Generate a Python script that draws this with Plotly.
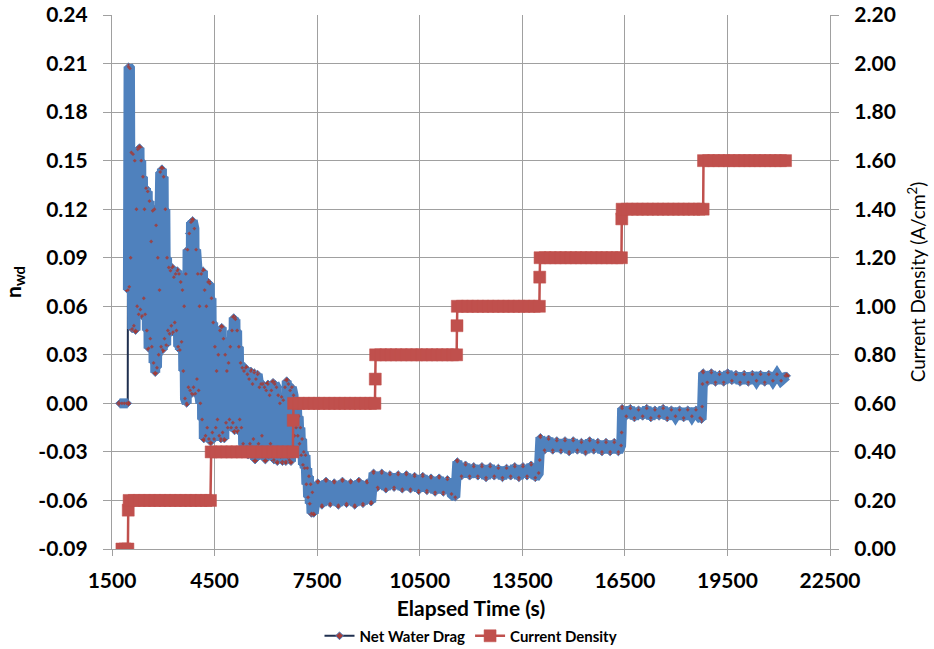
import plotly.graph_objects as go

# Net water drag (n_wd) vs elapsed time (s): start-up and transient period
nwd_early = [
    (1720, 0.000), (1790, 0.000), (1860, 0.000), (1930, 0.000), (1960, 0.000), (1965, 0.070),
    (1985, 0.208), (2005, 0.072), (2025, 0.207), (2045, 0.090),
    (2065, 0.155), (2090, 0.046), (2115, 0.154), (2140, 0.048), (2165, 0.150), (2190, 0.045), (2215, 0.120), (2235, 0.060),
    (2255, 0.157), (2280, 0.055), (2305, 0.158), (2330, 0.058), (2355, 0.150), (2380, 0.054), (2405, 0.140), (2430, 0.065), (2450, 0.120),
    (2470, 0.055), (2495, 0.133), (2520, 0.045), (2545, 0.131), (2570, 0.034), (2595, 0.125), (2620, 0.040), (2645, 0.100), (2665, 0.035),
    (2690, 0.119), (2715, 0.025), (2740, 0.120), (2765, 0.019), (2790, 0.110), (2815, 0.022), (2840, 0.090), (2865, 0.030), (2890, 0.070),
    (2910, 0.143), (2935, 0.035), (2960, 0.145), (2985, 0.033), (3010, 0.140), (3035, 0.040), (3060, 0.120), (3085, 0.036), (3110, 0.090),
    (3135, 0.045), (3160, 0.084), (3185, 0.043), (3210, 0.082), (3235, 0.048), (3260, 0.084), (3285, 0.044), (3310, 0.078), (3335, 0.050), (3360, 0.080), (3385, 0.045),
    (3410, 0.082), (3435, 0.035), (3460, 0.080), (3485, 0.033), (3510, 0.075), (3535, 0.038), (3560, 0.070), (3585, 0.020),
    (3610, 0.060), (3635, 0.003), (3660, 0.080), (3685, 0.000), (3710, 0.095), (3735, 0.010), (3760, 0.105), (3785, 0.008), (3810, 0.112),
    (3835, 0.006), (3860, 0.113), (3885, 0.010), (3910, 0.108), (3935, 0.006), (3960, 0.095), (3985, 0.015), (4010, 0.080), (4035, 0.008), (4060, 0.060),
    (4085, 0.000), (4110, 0.080), (4135, -0.010), (4160, 0.082), (4185, -0.022), (4210, 0.070), (4235, -0.020), (4260, 0.060), (4285, -0.015),
    (4310, 0.075), (4335, -0.022), (4360, 0.074), (4385, -0.024), (4410, 0.065), (4435, -0.018), (4460, 0.050), (4485, -0.022), (4510, 0.035), (4535, -0.015), (4560, 0.020),
    (4585, -0.010), (4610, 0.030), (4635, -0.020), (4660, 0.045), (4685, -0.022), (4710, 0.047), (4735, -0.018), (4760, 0.040), (4785, -0.022), (4810, 0.030), (4835, -0.012), (4860, 0.020), (4885, -0.015),
    (4910, 0.025), (4935, -0.010), (4960, 0.035), (4985, -0.015), (5010, 0.045), (5035, -0.012), (5060, 0.053), (5085, -0.017), (5110, 0.052), (5135, -0.015), (5160, 0.045), (5185, -0.017), (5210, 0.035), (5235, -0.010), (5260, 0.025), (5285, -0.015),
    (5310, 0.022), (5335, -0.025), (5360, 0.020), (5385, -0.030), (5410, 0.022), (5435, -0.028), (5460, 0.018), (5485, -0.032), (5510, 0.015), (5535, -0.025), (5560, 0.020), (5585, -0.030), (5610, 0.012),
    (5635, -0.022), (5660, 0.019), (5685, -0.035), (5710, 0.015), (5735, -0.030), (5760, 0.018), (5785, -0.025), (5810, 0.010), (5835, -0.032), (5860, 0.012), (5885, -0.020),
    (5910, 0.012), (5935, -0.030), (5960, 0.010), (5985, -0.035), (6010, 0.008), (6035, -0.028), (6060, 0.012), (6085, -0.033), (6110, 0.005),
    (6135, -0.025), (6160, 0.008), (6185, -0.030), (6210, 0.013), (6235, -0.035), (6260, 0.012), (6285, -0.030), (6310, 0.010), (6335, -0.036), (6360, 0.005), (6385, -0.028),
    (6410, 0.000), (6435, -0.033), (6460, 0.004), (6485, -0.036), (6510, 0.002), (6535, -0.030),
    (6560, 0.010), (6585, -0.036), (6610, 0.014), (6635, -0.033), (6660, 0.012), (6685, -0.035), (6710, 0.008), (6735, -0.036), (6760, 0.010), (6785, -0.030), (6810, 0.005), (6835, -0.020),
    (6860, 0.000), (6885, -0.015), (6910, -0.002), (6935, -0.020), (6960, -0.008), (6985, -0.025), (7010, -0.015), (7035, -0.032), (7060, -0.022), (7085, -0.038), (7110, -0.030), (7135, -0.040),
    (7160, -0.032), (7185, -0.050), (7210, -0.040), (7235, -0.058), (7260, -0.045), (7285, -0.062), (7310, -0.050), (7335, -0.068), (7360, -0.055),
]

# Net water drag during the constant-current holds
nwd_steps = [
    (7400, -0.068), (7520, -0.049), (7640, -0.063), (7760, -0.048), (7880, -0.062), (8000, -0.049), (8120, -0.063), (8240, -0.048),
    (8360, -0.062), (8480, -0.049), (8600, -0.063), (8720, -0.048), (8840, -0.062), (8960, -0.049), (9080, -0.061),
    (9150, -0.043), (9270, -0.052), (9390, -0.043), (9510, -0.053), (9630, -0.044), (9750, -0.052), (9870, -0.044), (9990, -0.053),
    (10110, -0.044), (10230, -0.053), (10350, -0.045), (10470, -0.054), (10590, -0.045), (10710, -0.054), (10830, -0.046), (10950, -0.055),
    (11070, -0.046), (11190, -0.055), (11310, -0.047), (11430, -0.056), (11540, -0.058),
    (11600, -0.036), (11720, -0.045), (11840, -0.038), (11960, -0.045), (12080, -0.039), (12200, -0.045), (12320, -0.039), (12440, -0.046),
    (12560, -0.039), (12680, -0.045), (12800, -0.040), (12920, -0.046), (13040, -0.040), (13160, -0.045), (13280, -0.039), (13400, -0.046),
    (13520, -0.039), (13640, -0.045), (13760, -0.038), (13880, -0.046), (13980, -0.043), (14010, -0.035),
    (14030, -0.021), (14150, -0.029), (14270, -0.022), (14390, -0.029), (14510, -0.023), (14630, -0.029), (14750, -0.023), (14870, -0.030),
    (14990, -0.023), (15110, -0.029), (15230, -0.024), (15350, -0.030), (15470, -0.023), (15590, -0.029), (15710, -0.024), (15830, -0.030),
    (15950, -0.024), (16070, -0.030), (16190, -0.024), (16310, -0.030), (16390, -0.026), (16405, -0.018),
    (16420, -0.003), (16540, -0.008), (16660, -0.003), (16780, -0.009), (16900, -0.004), (17020, -0.008), (17140, -0.003), (17260, -0.009),
    (17380, -0.004), (17500, -0.008), (17620, -0.003), (17740, -0.009), (17860, -0.004), (17980, -0.008), (18100, -0.004), (18220, -0.009),
    (18340, -0.004), (18460, -0.008), (18580, -0.004), (18700, -0.009), (18745, -0.010), (18760, -0.002), (18770, 0.012),
    (18790, 0.019), (18910, 0.013), (19030, 0.019), (19150, 0.013), (19270, 0.018), (19390, 0.013), (19510, 0.019), (19630, 0.014),
    (19750, 0.018), (19870, 0.013), (19990, 0.018), (20110, 0.013), (20230, 0.018), (20350, 0.014), (20470, 0.018), (20590, 0.013),
    (20710, 0.018), (20830, 0.014), (20950, 0.018), (21070, 0.014), (21190, 0.017), (21230, 0.017),
]

# Current density (A/cm^2) vs elapsed time (s)
current_density = [
    (1790, 0.0), (1880, 0.0), (1965, 0.0), (1975, 0.16),
    (2000, 0.2), (2150, 0.2), (2300, 0.2), (2450, 0.2), (2600, 0.2), (2750, 0.2), (2900, 0.2), (3050, 0.2), (3200, 0.2),
    (3350, 0.2), (3500, 0.2), (3650, 0.2), (3800, 0.2), (3950, 0.2), (4100, 0.2), (4250, 0.2), (4380, 0.2),
    (4400, 0.4), (4550, 0.4), (4700, 0.4), (4850, 0.4), (5000, 0.4), (5150, 0.4), (5300, 0.4), (5450, 0.4), (5600, 0.4),
    (5750, 0.4), (5900, 0.4), (6050, 0.4), (6200, 0.4), (6350, 0.4), (6500, 0.4), (6650, 0.4), (6790, 0.4),
    (6800, 0.53),
    (6810, 0.6), (6960, 0.6), (7110, 0.6), (7260, 0.6), (7410, 0.6), (7560, 0.6), (7710, 0.6), (7860, 0.6), (8010, 0.6),
    (8160, 0.6), (8310, 0.6), (8460, 0.6), (8610, 0.6), (8760, 0.6), (8910, 0.6), (9060, 0.6), (9190, 0.6),
    (9200, 0.70),
    (9210, 0.8), (9360, 0.8), (9510, 0.8), (9660, 0.8), (9810, 0.8), (9960, 0.8), (10110, 0.8), (10260, 0.8), (10410, 0.8),
    (10560, 0.8), (10710, 0.8), (10860, 0.8), (11010, 0.8), (11160, 0.8), (11310, 0.8), (11460, 0.8), (11580, 0.8),
    (11590, 0.92),
    (11600, 1.0), (11750, 1.0), (11900, 1.0), (12050, 1.0), (12200, 1.0), (12350, 1.0), (12500, 1.0), (12650, 1.0), (12800, 1.0),
    (12950, 1.0), (13100, 1.0), (13250, 1.0), (13400, 1.0), (13550, 1.0), (13700, 1.0), (13850, 1.0), (14000, 1.0),
    (14010, 1.12),
    (14020, 1.2), (14170, 1.2), (14320, 1.2), (14470, 1.2), (14620, 1.2), (14770, 1.2), (14920, 1.2), (15070, 1.2), (15220, 1.2),
    (15370, 1.2), (15520, 1.2), (15670, 1.2), (15820, 1.2), (15970, 1.2), (16120, 1.2), (16270, 1.2), (16400, 1.2),
    (16410, 1.36),
    (16420, 1.4), (16570, 1.4), (16720, 1.4), (16870, 1.4), (17020, 1.4), (17170, 1.4), (17320, 1.4), (17470, 1.4), (17620, 1.4),
    (17770, 1.4), (17920, 1.4), (18070, 1.4), (18220, 1.4), (18370, 1.4), (18520, 1.4), (18670, 1.4), (18790, 1.4),
    (18800, 1.6), (18950, 1.6), (19100, 1.6), (19250, 1.6), (19400, 1.6), (19550, 1.6), (19700, 1.6), (19850, 1.6), (20000, 1.6),
    (20150, 1.6), (20300, 1.6), (20450, 1.6), (20600, 1.6), (20750, 1.6), (20900, 1.6), (21050, 1.6), (21200, 1.6),
]

x_ticks = [1500, 4500, 7500, 10500, 13500, 16500, 19500, 22500]
y_ticks = [-0.09, -0.06, -0.03, 0.00, 0.03, 0.06, 0.09, 0.12, 0.15, 0.18, 0.21, 0.24]
y_tick_text = ["-0.09", "-0.06", "-0.03", "0.00", "0.03", "0.06", "0.09", "0.12", "0.15", "0.18", "0.21", "0.24"]
y2_ticks = [0.0, 0.2, 0.4, 0.6, 0.8, 1.0, 1.2, 1.4, 1.6, 1.8, 2.0, 2.2]

nwd = nwd_early + nwd_steps
t_nwd = [p[0] for p in nwd]
v_nwd = [p[1] for p in nwd]
t_cd = [p[0] for p in current_density]
v_cd = [p[1] for p in current_density]

BLUE = "#4F81BD"
NAVY = "#1F2F4F"
RED = "#C0504D"
DOT = "#A33B38"
GRID = "#A0A0A0"
FONT = "Lato"

# band drawn through the same points (gap at the initial jump, which shows as a thin line)
band_x = t_nwd[:5] + [None] + t_nwd[5:]
band_y = v_nwd[:5] + [None] + v_nwd[5:]

fig = go.Figure()
fig.add_trace(go.Scatter(
    x=t_nwd, y=v_nwd, mode="lines+markers", name="Net Water Drag",
    line=dict(color=NAVY, width=2),
    marker=dict(symbol="diamond", size=6, color=DOT, line=dict(color=BLUE, width=1)),
    hoverinfo="skip",
))
fig.add_trace(go.Scatter(
    x=band_x, y=band_y, mode="lines", showlegend=False, connectgaps=False,
    line=dict(color=BLUE, width=10), hoverinfo="skip",
))
fig.add_trace(go.Scatter(
    x=t_nwd, y=v_nwd, mode="markers", showlegend=False,
    marker=dict(symbol="diamond", size=3, color=DOT), opacity=0.85, hoverinfo="skip",
))
fig.add_trace(go.Scatter(
    x=t_cd, y=v_cd, yaxis="y2", mode="lines+markers", name="Current Density",
    line=dict(color=RED, width=2.5),
    marker=dict(symbol="square", size=12, color=RED, line=dict(color=RED, width=0.5)),
    hoverinfo="skip",
))

tickfont = dict(family=FONT, size=21, color="black", weight="bold")
fig.update_layout(
    width=934, height=649,
    margin=dict(l=112, r=104, t=15, b=100, autoexpand=False),
    paper_bgcolor="white", plot_bgcolor="white",
    showlegend=True,
    legend=dict(orientation="h", x=0.5, xanchor="center", y=-0.163, yanchor="middle",
                font=dict(family=FONT, size=15, color="black", weight="bold"),
                itemwidth=30, tracegroupgap=0),
    xaxis=dict(
        range=[1500, 22500], tickvals=x_ticks, tickformat="d", automargin=False,
        showgrid=True, gridcolor=GRID, gridwidth=1.2, zeroline=False,
        showline=True, linecolor=GRID, linewidth=1.2,
        ticks="outside", ticklen=6, tickcolor=GRID, tickfont=tickfont,
        ticklabelstandoff=7,
        title=dict(text="Elapsed Time (s)", standoff=10,
                   font=dict(family=FONT, size=21, color="black", weight="bold")),
    ),
    yaxis=dict(
        range=[-0.09, 0.24], tickvals=y_ticks, ticktext=y_tick_text, automargin=False,
        showgrid=True, gridcolor=GRID, gridwidth=1.2, zeroline=False,
        showline=True, linecolor=GRID, linewidth=1.2,
        ticks="outside", ticklen=8, tickcolor=GRID, tickfont=tickfont,
        ticklabelstandoff=11,
        title=dict(text="n<sub>wd</sub>", standoff=16,
                   font=dict(family=FONT, size=21, color="black", weight="bold")),
    ),
    yaxis2=dict(
        range=[0, 2.2], tickvals=y2_ticks, tickformat=".2f", overlaying="y", side="right",
        automargin=False,
        showgrid=False, zeroline=False,
        showline=True, linecolor=GRID, linewidth=1.2,
        ticks="outside", ticklen=8, tickcolor=GRID, tickfont=tickfont,
        ticklabelstandoff=11,
        title=dict(text="Current Density (A/cm<sup>2</sup>)", standoff=16,
                   font=dict(family=FONT, size=19, color="black")),
    ),
)

fig.write_html("out.html")
